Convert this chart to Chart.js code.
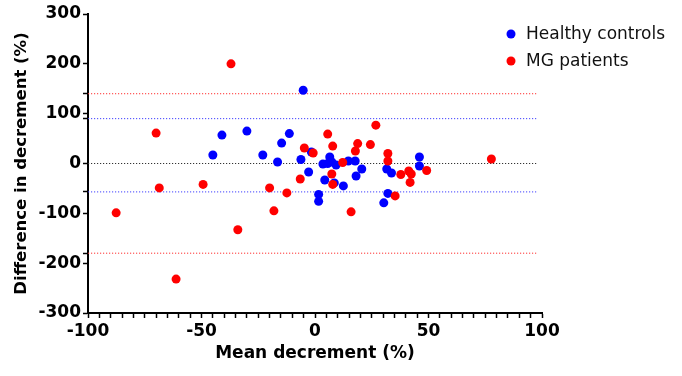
<!DOCTYPE html>
<html>
<head>
<meta charset="utf-8">
<script src="https://cdn.jsdelivr.net/npm/chart.js@4"></script>
<style>
body { margin: 0; background: #fff; }
#wrap { width: 682px; height: 376px; }
</style>
</head>
<body>
<div id="wrap"><canvas id="myChart" width="682" height="376"></canvas></div>
<script>
// noms des séries
const seriesNames = ['Healthy controls', 'MG patients']

// Healthy controls : moyenne / différence
const healthyMean = [-45, -41, -30, -23, -16.5, -14.7, -11.3, -6.2, -5.2, -1.6, -2.8, 1.6, 1.6, 3.5, 5.6, 6.5, 7.4, 9.3, 4.3, 8.5, 12.5, 14.7, 17.7, 20.6, 18.1, 31.6, 33.7, 46, 46, 32.1, 30.3]
const healthyDiff = [17, 57, 65, 17, 3, 41, 60, 8, 147, 23, -17, -62, -76, -1, 0, 13, 3, -3, -33, -39, -45, 5, 5, -11, -25, -11, -19, 13, -5, -60, -79]

// MG patients : moyenne / différence
const mgMean = [-87.6, -70, -68.6, -61.2, -49.3, -37, -34, -20, -18.1, -12.4, -6.5, -4.7, -0.8, 5.6, 7.8, 7.4, 7.8, 12.2, 15.9, 17.8, 18.8, 24.4, 26.8, 32.1, 32.1, 37.8, 41.3, 42.4, 41.9, 35.3, 49.2, 77.7]
const mgDiff = [-99, 61, -49, -232, -42, 200, -133, -49, -95, -59, -31, 31, 21, 59, 35, -21, -42, 2, -97, 25, 40, 38, 77, 20, 5, -22, -15, -21, -38, -65, -14, 9]

// limites (pointillés) : MG haut, HC haut, biais, HC bas, MG bas
const limitValues = [140, 90, 0, -57, -180]
const limitStart = -100
const limitEnd = 98

// ticks
const xTickLabels = [-100, -50, 0, 50, 100]
const yTickLabels = [-300, -200, -100, 0, 100, 200, 300]

const limitColors = ['#ff3030', '#4040ff', '#333333', '#4040ff', '#ff3030']
const seriesColors = ['#0000ff', '#ff0000']

const pair = (xs, ys) => xs.map((x, i) => ({ x: x, y: ys[i] }))

const limitDatasets = limitValues.map((v, i) => ({
    type: 'line',
    data: [{ x: limitStart, y: v }, { x: limitEnd, y: v }],
    borderColor: limitColors[i],
    borderWidth: 1,
    borderDash: [1.2, 1.8],
    pointRadius: 0,
    order: 3
}))

// légende dessinée à la main
const legendPlugin = {
    id: 'customLegend',
    afterDraw(chart) {
        const ctx = chart.ctx
        ctx.save()
        ctx.font = '17px "DejaVu Sans", sans-serif'
        ctx.textBaseline = 'middle'
        seriesNames.forEach((name, i) => {
            const y = 34 + i * 27
            ctx.fillStyle = seriesColors[i]
            ctx.beginPath()
            ctx.arc(511, y, 4.5, 0, Math.PI * 2)
            ctx.fill()
            ctx.fillStyle = '#111'
            ctx.fillText(name, 526, y + 1)
        })
        ctx.restore()
    }
}

const tickFont = { family: '"DejaVu Sans"', size: 17, weight: 'bold' }

const ctx = document.getElementById('myChart').getContext('2d')
const myChart = new Chart(ctx, {
    type: 'scatter',
    data: {
        datasets: [
            {
                label: seriesNames[0],
                data: pair(healthyMean, healthyDiff),
                backgroundColor: seriesColors[0],
                borderWidth: 0,
                pointRadius: 4.5,
                order: 2
            },
            {
                label: seriesNames[1],
                data: pair(mgMean, mgDiff),
                backgroundColor: seriesColors[1],
                borderWidth: 0,
                pointRadius: 4.5,
                order: 1
            },
            ...limitDatasets
        ]
    },
    options: {
        responsive: false,
        animation: false,
        layout: { padding: { top: 14, right: 140, left: 0, bottom: 0 } },
        plugins: {
            legend: { display: false },
            tooltip: { enabled: false }
        },
        scales: {
            x: {
                type: 'linear',
                min: -100,
                max: 100,
                afterFit: s => { s.height = 63 },
                border: { color: '#000', width: 2 },
                grid: { drawOnChartArea: false, drawTicks: true, tickLength: 5, color: '#000', tickWidth: 1.5 },
                ticks: {
                    stepSize: 5,
                    autoSkip: false,
                    maxRotation: 0,
                    padding: 3,
                    color: '#000',
                    font: tickFont,
                    callback: v => xTickLabels.includes(v) ? String(v) : ''
                },
                title: {
                    display: true,
                    text: 'Mean decrement (%)',
                    color: '#000',
                    padding: { top: 0, bottom: 12 },
                    font: { family: '"DejaVu Sans"', size: 17, weight: 'bold' }
                }
            },
            y: {
                type: 'linear',
                min: -300,
                max: 300,
                afterFit: s => { s.width = 88 },
                afterBuildTicks: s => {
                    const vals = yTickLabels.concat(limitValues.filter(v => v !== 0))
                    vals.sort((a, b) => a - b)
                    s.ticks = vals.map(v => ({ value: v }))
                },
                border: { color: '#000', width: 2 },
                grid: { drawOnChartArea: false, drawTicks: true, tickLength: 5, color: '#000', tickWidth: 1.5 },
                ticks: {
                    autoSkip: false,
                    padding: 2,
                    color: '#000',
                    font: tickFont,
                    callback: v => yTickLabels.includes(v) ? String(v) : ''
                },
                title: {
                    display: true,
                    text: 'Difference in decrement (%)',
                    color: '#000',
                    padding: { top: 12, bottom: 0 },
                    font: { family: '"DejaVu Sans"', size: 16.5, weight: 'bold' }
                }
            }
        }
    },
    plugins: [legendPlugin]
})
</script>
</body>
</html>
